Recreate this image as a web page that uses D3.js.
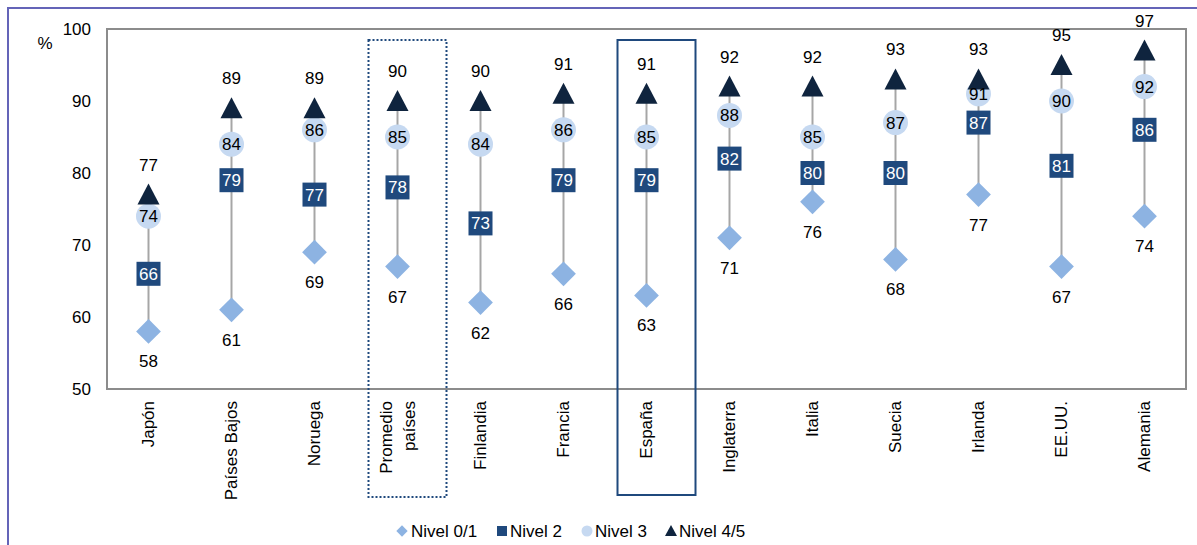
<!DOCTYPE html>
<html>
<head>
<meta charset="utf-8">
<script src="https://cdn.jsdelivr.net/npm/d3@7"></script>
<style>
  html, body { margin: 0; padding: 0; background: #fff; }
  svg { display: block; font-family: "Liberation Sans", Arial, sans-serif; }
</style>
</head>
<body>
<svg id="chart" width="1197" height="545"></svg>
<script>
// Countries (x categories)
const countries = ["Japón", "Países Bajos", "Noruega", "Promedio países", "Finlandia", "Francia",
  "España", "Inglaterra", "Italia", "Suecia", "Irlanda", "EE.UU.", "Alemania"];

// Percentage per level
const nivel01 = [58, 61, 69, 67, 62, 66, 63, 71, 76, 68, 77, 67, 74];
const nivel2  = [66, 79, 77, 78, 73, 79, 79, 82, 80, 80, 87, 81, 86];
const nivel3  = [74, 84, 86, 85, 84, 86, 85, 88, 85, 87, 91, 90, 92];
const nivel45 = [77, 89, 89, 90, 90, 91, 91, 92, 92, 93, 93, 95, 97];

const yTicks = [50, 60, 70, 80, 90, 100];
const legendLabels = ["Nivel 0/1", "Nivel 2", "Nivel 3", "Nivel 4/5"];

const colors = {
  diamond: "#8db3e2",
  square: "#1f497d",
  circle: "#c6d9f1",
  triangle: "#0f243e",
  stem: "#a6a6a6",
  frame: "#8c8c8c",
  outer: "#6464b8",
  box: "#1f497d"
};

const FS = 17;
const svg = d3.select("#chart");
const plot = { left: 107, top: 29, right: 1186, bottom: 389 };

const x = d3.scaleBand().domain(countries).range([plot.left, plot.right]);
const y = d3.scaleLinear().domain([50, 100]).range([plot.bottom, plot.top]);
const cx = c => x(c) + x.bandwidth() / 2;

// outer chart border (left and top visible)
svg.append("path")
  .attr("d", "M8,545 L8,8 L1197,8")
  .attr("fill", "none")
  .attr("stroke", colors.outer)
  .attr("stroke-width", 2);

// plot frame
svg.append("rect")
  .attr("x", plot.left).attr("y", plot.top)
  .attr("width", plot.right - plot.left).attr("height", plot.bottom - plot.top)
  .attr("fill", "none").attr("stroke", colors.frame).attr("stroke-width", 2);

// y axis (labels only)
const yAxis = d3.axisLeft(y).tickValues(yTicks).tickSize(0).tickPadding(16);
const yg = svg.append("g").attr("transform", `translate(${plot.left},0)`).call(yAxis);
yg.select(".domain").remove();
yg.selectAll("text").attr("font-size", FS).attr("fill", "#000")
  .attr("font-family", "Liberation Sans, Arial, sans-serif");

svg.append("text").attr("x", 45).attr("y", 49).attr("text-anchor", "middle")
  .attr("font-size", FS).text("%");

// x axis labels (rotated)
const xAxis = d3.axisBottom(x).tickSize(0).tickFormat("");
const xg = svg.append("g").attr("transform", `translate(0,${plot.bottom})`).call(xAxis);
xg.select(".domain").remove();

countries.forEach(c => {
  const lines = c === "Promedio países" ? ["Promedio", "países"] : [c];
  const g = svg.append("g").attr("transform", `translate(${cx(c)},401) rotate(-90)`);
  lines.forEach((t, i) => {
    const off = (i - (lines.length - 1) / 2) * 23;
    g.append("text")
      .attr("x", 0).attr("y", off)
      .attr("dy", "0.35em")
      .attr("text-anchor", "end")
      .attr("font-size", FS)
      .text(t);
  });
});

// highlight boxes
const boxTop = 40;
svg.append("rect")
  .attr("x", cx("Promedio países") - 29).attr("y", boxTop)
  .attr("width", 78).attr("height", 497 - boxTop)
  .attr("fill", "none").attr("stroke", colors.box).attr("stroke-width", 2)
  .attr("stroke-dasharray", "2,2");
svg.append("rect")
  .attr("x", cx("España") - 29).attr("y", boxTop)
  .attr("width", 78).attr("height", 495 - boxTop)
  .attr("fill", "none").attr("stroke", colors.box).attr("stroke-width", 2);

// stems
svg.append("g").selectAll("line").data(countries).join("line")
  .attr("x1", cx).attr("x2", cx)
  .attr("y1", (c, i) => y(nivel01[i])).attr("y2", (c, i) => y(nivel45[i]))
  .attr("stroke", colors.stem).attr("stroke-width", 2);

// diamonds
svg.append("g").selectAll("rect").data(countries).join("rect")
  .attr("x", -12).attr("y", -12).attr("width", 24).attr("height", 24)
  .attr("transform", (c, i) => `translate(${cx(c)},${y(nivel01[i])}) rotate(45) scale(0.73)`)
  .attr("fill", colors.diamond);

// squares
svg.append("g").selectAll("rect").data(countries).join("rect")
  .attr("x", c => cx(c) - 12).attr("y", (c, i) => y(nivel2[i]) - 12)
  .attr("width", 24).attr("height", 24)
  .attr("fill", colors.square);

// circles
svg.append("g").selectAll("circle").data(countries).join("circle")
  .attr("cx", cx).attr("cy", (c, i) => y(nivel3[i])).attr("r", 12.5)
  .attr("fill", colors.circle);

// triangles
svg.append("g").selectAll("path").data(countries).join("path")
  .attr("d", "M0,-11 L11,10 L-11,10 Z")
  .attr("transform", (c, i) => `translate(${cx(c)},${y(nivel45[i])})`)
  .attr("fill", colors.triangle);

// value labels
const lbl = svg.append("g").attr("font-size", FS).attr("text-anchor", "middle");
countries.forEach((c, i) => {
  lbl.append("text").attr("x", cx(c)).attr("y", y(nivel01[i]) + 30).attr("dy", "0.35em").text(nivel01[i]);
  lbl.append("text").attr("x", cx(c)).attr("y", y(nivel2[i])).attr("dy", "0.35em").attr("fill", "#fff").text(nivel2[i]);
  lbl.append("text").attr("x", cx(c)).attr("y", y(nivel3[i])).attr("dy", "0.35em").text(nivel3[i]);
  lbl.append("text").attr("x", cx(c)).attr("y", y(nivel45[i]) - 30).attr("dy", "0.35em").text(nivel45[i]);
});

// legend
const legY = 531;
const legend = [
  { label: legendLabels[0], x: 402, tx: 411, draw: g => g.append("rect").attr("x", -4).attr("y", -4).attr("width", 8).attr("height", 8).attr("transform", "rotate(45)").attr("fill", colors.diamond) },
  { label: legendLabels[1], x: 502, tx: 510, draw: g => g.append("rect").attr("x", -5).attr("y", -5).attr("width", 10).attr("height", 10).attr("fill", colors.square) },
  { label: legendLabels[2], x: 587, tx: 595, draw: g => g.append("circle").attr("r", 5.5).attr("fill", colors.circle) },
  { label: legendLabels[3], x: 671, tx: 679, draw: g => g.append("path").attr("d", "M0,-6 L6,5 L-6,5 Z").attr("fill", colors.triangle) }
];
legend.forEach(d => {
  const g = svg.append("g").attr("transform", `translate(${d.x},${legY})`);
  d.draw(g);
  svg.append("text").attr("x", d.tx).attr("y", legY).attr("dy", "0.35em")
    .attr("font-size", FS).text(d.label);
});
</script>
</body>
</html>
